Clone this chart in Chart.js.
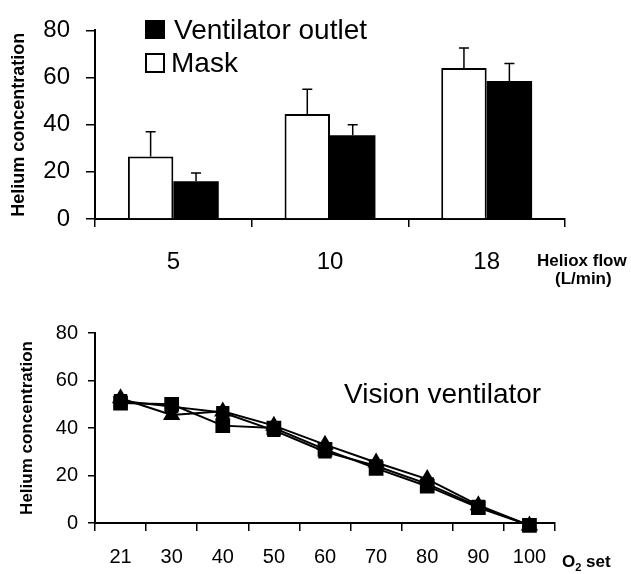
<!DOCTYPE html>
<html lang="en">
  <head>
    <meta charset="UTF-8" />
    <title>Helium concentration</title>
    <script src="https://cdn.jsdelivr.net/npm/chart.js"></script>
    <style>
      body { margin: 0; background: #fff; font-family: "Liberation Sans", Arial, sans-serif; color: #000; }
      .wrap { position: relative; width: 631px; height: 574px; overflow: hidden; }
      .box { position: absolute; width: 631px; }
      .txt { position: absolute; white-space: nowrap; line-height: 1; }
      .swatch { position: absolute; box-sizing: border-box; }
      .bold { font-weight: bold; }
    </style>
  </head>
  <body>
    <div class="wrap">
      <div class="box" style="left:0;top:0;height:290px;"><canvas id="barChart"></canvas></div>
      <div class="box" style="left:0;top:300px;height:274px;"><canvas id="lineChart"></canvas></div>

      <!-- legend of the bar chart -->
      <div class="swatch" style="left:145px;top:20px;width:20px;height:19px;background:#000;"></div>
      <div class="txt" style="left:174px;top:16px;font-size:28px;">Ventilator outlet</div>
      <div class="swatch" style="left:145px;top:53px;width:20px;height:20px;border:2px solid #000;background:#fff;"></div>
      <div class="txt" style="left:171px;top:49px;font-size:28px;">Mask</div>

      <div class="txt bold" style="left:537px;top:252px;font-size:17px;">Heliox flow</div>
      <div class="txt bold" style="left:555px;top:270px;font-size:17px;">(L/min)</div>

      <div class="txt" style="left:344px;top:380px;font-size:28px;">Vision ventilator</div>
      <div class="txt bold" style="left:562px;top:553px;font-size:17px;">O<sub style="font-size:11px;">2</sub> set</div>
    </div>

<script>
  // top chart: helium concentration vs heliox flow
  const flowLabels = ["5", "10", "18"];
  const maskValues = [26.5, 44.5, 64];
  const maskSd = [10.5, 10.5, 8.5];
  const ventValues = [16, 35.5, 58.5];
  const ventSd = [3.5, 4.5, 7.5];

  // bottom chart: helium concentration vs O2 set (Vision ventilator)
  const o2Labels = ["21", "30", "40", "50", "60", "70", "80", "90", "100"];
  const seriesSquare = [50.5, 50, 41, 40, 31, 23, 15.5, 6.5, -1];
  const seriesTriangle = [52.5, 45.5, 47, 41, 33, 25.5, 18.5, 7.5, -1];
  const seriesThird = [51.5, 49, 46.5, 39, 30, 24, 16.5, 7, -1];

  const yTicks = [0, 20, 40, 60, 80];
  const fontFamily = '"Liberation Sans", Arial, sans-serif';

  Chart.defaults.font.family = fontFamily;
  Chart.defaults.color = "#000";

  // error bars drawn upward from the top of each bar
  const errorBars = {
    id: "errorBars",
    afterDatasetsDraw(chart) {
      const ctx = chart.ctx;
      const y = chart.scales.y;
      chart.data.datasets.forEach((ds, i) => {
        if (!ds.sd) return;
        const meta = chart.getDatasetMeta(i);
        meta.data.forEach((bar, j) => {
          const top = y.getPixelForValue(ds.data[j] + ds.sd[j]);
          ctx.save();
          ctx.strokeStyle = "#000";
          ctx.lineWidth = 1.5;
          ctx.beginPath();
          ctx.moveTo(bar.x, bar.y);
          ctx.lineTo(bar.x, top);
          ctx.moveTo(bar.x - 5, top);
          ctx.lineTo(bar.x + 5, top);
          ctx.stroke();
          ctx.restore();
        });
      });
    },
  };

  var barCtx = document.getElementById("barChart").getContext("2d");
  let barras = new Chart(barCtx, {
    type: "bar",
    data: {
      labels: flowLabels,
      datasets: [
        {
          label: "Mask",
          data: maskValues,
          sd: maskSd,
          backgroundColor: "#fff",
          borderColor: "#000",
          borderWidth: 2,
        },
        {
          label: "Ventilator outlet",
          data: ventValues,
          sd: ventSd,
          backgroundColor: "#000",
          borderColor: "#000",
          borderWidth: 0,
        },
      ],
    },
    options: {
      responsive: true,
      maintainAspectRatio: false,
      animation: false,
      layout: { padding: { top: 25, right: 66, left: 0, bottom: 0 } },
      plugins: { legend: { display: false }, tooltip: { enabled: false } },
      datasets: { bar: { categoryPercentage: 0.58, barPercentage: 1.0 } },
      scales: {
        x: {
          afterFit: (s) => { s.height = 71; },
          grid: { display: true, drawOnChartArea: false, drawTicks: true, tickLength: 8, color: "#000", lineWidth: 1.5 },
          border: { color: "#000", width: 2 },
          ticks: { font: { size: 24 }, padding: 21, color: "#000" },
        },
        y: {
          min: 0,
          max: 80,
          afterFit: (s) => { s.width = 95; },
          afterBuildTicks: (s) => { s.ticks = yTicks.map((v) => ({ value: v })); },
          grid: { display: true, drawOnChartArea: false, drawTicks: true, tickLength: 9, color: "#000", lineWidth: 1.5 },
          border: { color: "#000", width: 2 },
          ticks: { font: { size: 24 }, padding: 16, color: "#000" },
          title: { display: true, text: "Helium concentration", font: { size: 18, weight: "bold" }, padding: { top: 8 } },
        },
      },
    },
    plugins: [errorBars],
  });

  var lineCtx = document.getElementById("lineChart").getContext("2d");
  let linhas = new Chart(lineCtx, {
    type: "line",
    data: {
      labels: o2Labels,
      datasets: [
        {
          label: "Third",
          data: seriesThird,
          borderColor: "#000",
          backgroundColor: "#000",
          borderWidth: 2,
          pointStyle: "rect",
          pointRadius: 8,
          clip: false,
          fill: false,
        },
        {
          label: "Triangle",
          data: seriesTriangle,
          borderColor: "#000",
          backgroundColor: "#000",
          borderWidth: 2,
          pointStyle: "triangle",
          pointRadius: 8,
          clip: false,
          fill: false,
        },
        {
          label: "Square",
          data: seriesSquare,
          borderColor: "#000",
          backgroundColor: "#000",
          borderWidth: 2,
          pointStyle: "rect",
          pointRadius: 9,
          clip: false,
          fill: false,
        },
      ],
    },
    options: {
      responsive: true,
      maintainAspectRatio: false,
      animation: false,
      layout: { padding: { top: 33, right: 76, left: 0, bottom: 0 } },
      plugins: { legend: { display: false }, tooltip: { enabled: false } },
      scales: {
        x: {
          offset: true,
          afterFit: (s) => { s.height = 51; },
          grid: { display: true, offset: true, drawOnChartArea: false, drawTicks: true, tickLength: 8, color: "#000", lineWidth: 1.5 },
          border: { color: "#000", width: 2 },
          ticks: { font: { size: 20 }, padding: 14, color: "#000" },
        },
        y: {
          min: 0,
          max: 80,
          afterFit: (s) => { s.width = 95; },
          afterBuildTicks: (s) => { s.ticks = yTicks.map((v) => ({ value: v })); },
          grid: { display: true, drawOnChartArea: false, drawTicks: true, tickLength: 7, color: "#000", lineWidth: 1.5 },
          border: { color: "#000", width: 2 },
          ticks: { font: { size: 20 }, padding: 10, color: "#000" },
          title: { display: true, text: "Helium concentration", font: { size: 17, weight: "bold" }, padding: { top: 17 } },
        },
      },
    },
  });
</script>
  </body>
</html>
